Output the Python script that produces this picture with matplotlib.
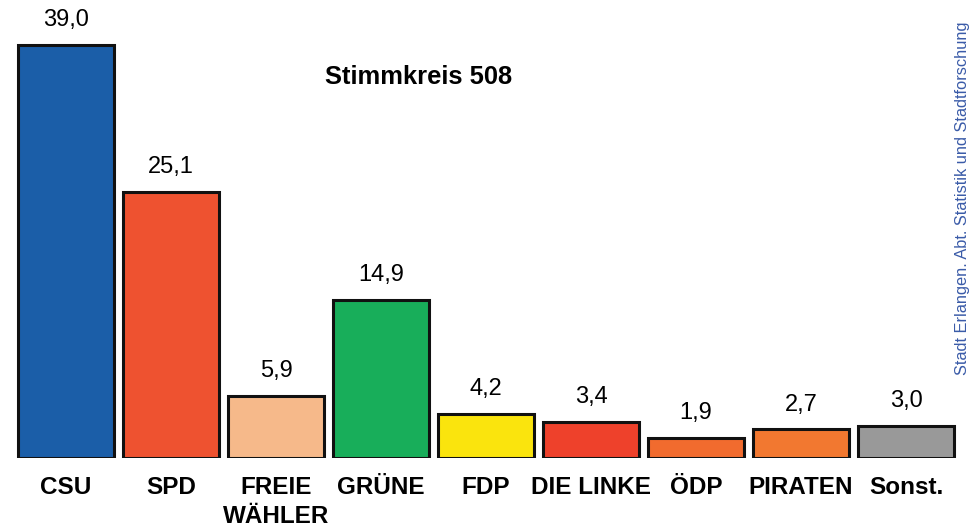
import matplotlib
matplotlib.use('Agg')
import matplotlib.pyplot as plt

plt.rcParams['font.family'] = ['Liberation Sans', 'DejaVu Sans']

# data
parties = ['CSU', 'SPD', 'FREIE\nWÄHLER', 'GRÜNE', 'FDP', 'DIE LINKE', 'ÖDP', 'PIRATEN', 'Sonst.']
shares = [39.0, 25.1, 5.9, 14.9, 4.2, 3.4, 1.9, 2.7, 3.0]
colors = ['#1B5EA8', '#EE5230', '#F6B98A', '#18AE5A', '#FAE40D',
          '#EE412B', '#F16B2E', '#F27830', '#999999']


def main():
    fig = plt.figure(figsize=(9.71, 5.31), dpi=100)
    ax = fig.add_axes([0, 1 - 458 / 531, 1, 458 / 531])

    x = list(range(len(parties)))
    ax.bar(x, shares, width=0.914, color=colors, edgecolor='#111111', linewidth=2.2)

    # values over the bars
    for xi, v in zip(x, shares):
        ax.annotate(f'{v:.1f}'.replace('.', ','), (xi, v), xytext=(0, 10),
                    textcoords='offset points', ha='center', va='bottom', fontsize=17)

    # category labels under the bars
    for xi, name in zip(x, parties):
        ax.annotate(name, (xi, 0), xytext=(0, -13), textcoords='offset points',
                    ha='center', va='top', fontsize=17.5, fontweight='bold',
                    linespacing=1.35, annotation_clip=False)

    ax.set_xlim(-66 / 105, (971 - 66) / 105)
    ax.set_ylim(0, 458 / 10.59)
    ax.axis('off')

    fig.text(419 / 971, 1 - 77 / 531, 'Stimmkreis 508', ha='center', va='center',
             fontsize=18.4, fontweight='bold')
    fig.text(962 / 971, 1 - 198 / 531, 'Stadt Erlangen. Abt. Statistik und Stadtforschung',
             rotation=90, ha='center', va='center', fontsize=11.8, color='#3A5BA8')

    fig.savefig('out.png', dpi=100)


if __name__ == '__main__':
    main()
